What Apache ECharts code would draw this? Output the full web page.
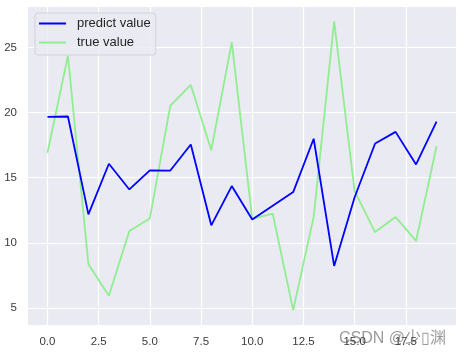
<!DOCTYPE html>
<html>
<head>
<meta charset="utf-8">
<script src="https://cdn.jsdelivr.net/npm/echarts@6/dist/echarts.min.js"></script>
<style>html,body{margin:0;padding:0;background:#fff;}#c{width:472px;height:360px;}</style>
</head>
<body>
<div id="c"></div>
<script>
var xValues = [0,1,2,3,4,5,6,7,8,9,10,11,12,13,14,15,16,17,18,19];
var predictValues = [19.67,19.7,12.19,16.07,14.1,15.56,15.55,17.55,11.35,14.36,11.8,12.85,13.9,17.99,8.23,13.5,17.63,18.52,16.02,19.31];
var trueValues = [16.91,24.36,8.36,5.94,10.91,11.88,20.53,22.12,17.11,25.41,11.85,12.24,4.84,12.0,26.99,13.97,10.83,11.98,10.15,17.42];
var xTicks = [0,2.5,5,7.5,10,12.5,15,17.5];
var yTicks = [5,10,15,20,25];

function pairs(vals){ return xValues.map(function(x,i){ return [x, vals[i]]; }); }

var chart = echarts.init(document.getElementById('c'), null, {renderer:'canvas'});
chart.setOption({
  animation:false,
  backgroundColor:'#ffffff',
  textStyle:{fontFamily:'Liberation Sans, Arial, sans-serif'},
  grid:{left:28,right:16,top:7,bottom:35,show:true,backgroundColor:'#eaeaf2',borderWidth:0},
  legend:{
    orient:'vertical', left:35, top:13,
    padding:[3,5,5,4],
    itemWidth:27, itemHeight:2, itemGap:4,
    backgroundColor:'rgba(234,234,242,0.8)',
    borderColor:'#d2d2d8', borderWidth:1, borderRadius:3,
    textStyle:{fontSize:13,color:'#262626',fontFamily:'Liberation Sans, Arial, sans-serif', lineHeight:15, padding:[0,0,0,6]},
    data:[{name:'predict value',icon:'rect'},{name:'true value',icon:'rect'}]
  },
  xAxis:{
    type:'value', min:-0.95, max:19.95,
    axisLine:{show:false},
    axisTick:{show:false, customValues:xTicks},
    axisLabel:{customValues:xTicks, formatter:function(v){return v.toFixed(1);}, color:'#3b3b3b', fontSize:11.5, margin:11},
    splitLine:{show:true, lineStyle:{color:'#ffffff',width:1.2}}
  },
  yAxis:{
    type:'value', min:3.7, max:28.1,
    axisLine:{show:false},
    axisTick:{show:false, customValues:yTicks},
    axisLabel:{customValues:yTicks, color:'#3b3b3b', fontSize:11.5, margin:11},
    splitLine:{show:true, lineStyle:{color:'#ffffff',width:1.2}}
  },
  series:[
    {name:'predict value', type:'line', data:pairs(predictValues), symbol:'none', lineStyle:{color:'#0000ff',width:1.8}, itemStyle:{color:'#0000ff'}, z:3},
    {name:'true value', type:'line', data:pairs(trueValues), symbol:'none', lineStyle:{color:'#90ee90',width:1.8}, itemStyle:{color:'#90ee90'}, z:2}
  ],
  graphic:[{
    type:'text', left:339, top:331,
    style:{text:'CSDN @少\u25AF渊', fontSize:16, fill:'rgba(120,120,120,0.75)', fontFamily:'Liberation Sans, Noto Sans CJK SC, sans-serif'}
  }]
});
</script>
</body>
</html>
